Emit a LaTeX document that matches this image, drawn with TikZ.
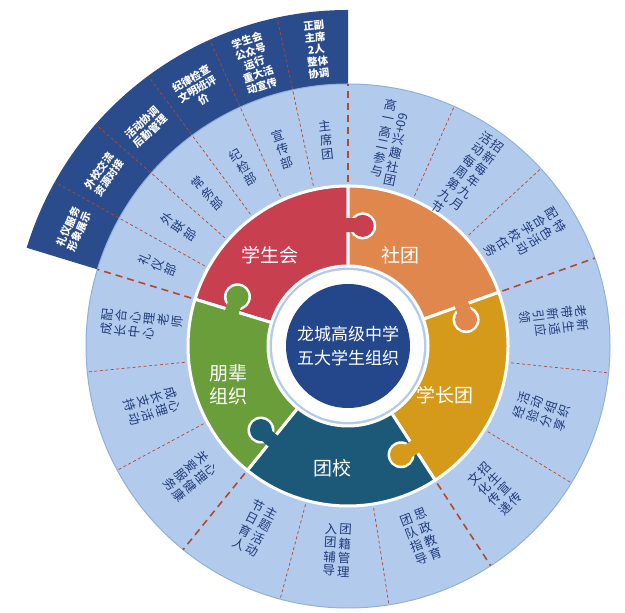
\documentclass[tikz,border=0pt]{standalone}
\usepackage{fontspec}
\setmainfont{Noto Sans CJK SC}
\definecolor{ringc}{HTML}{B2CBEC}
\definecolor{ringe}{HTML}{8FB0DA}
\definecolor{bandc}{HTML}{2B4C8C}
\definecolor{redc}{HTML}{C8404F}
\definecolor{orac}{HTML}{E0874E}
\definecolor{yelc}{HTML}{D59A1A}
\definecolor{teac}{HTML}{1C5878}
\definecolor{grec}{HTML}{6A9E3A}
\definecolor{cenc}{HTML}{23478A}
\definecolor{dashc}{HTML}{B5482A}
\definecolor{txtc}{HTML}{1F3A7A}
\newcommand\vcol[1]{\begin{tabular}[t]{@{}c@{}}#1\end{tabular}}
\newcommand\olab[3]{\pgfmathsetmacro\rot{ifthenelse(sin(#2)>=0,#2-90,#2+90)}%
  \node[otext,rotate=\rot] (#1) at ([shift={(O)}]#2:206) {#3};}
\newcommand\dlab[3]{\node[dtext,rotate=#2-90] (#1) at ([shift={(O)}]#2:298) {#3};}
\begin{document}
\renewcommand\arraystretch{0.92}
\begin{tikzpicture}[x=1pt,y=1pt,
  otext/.style={text=txtc,font=\fontsize{12.5}{13.5}\selectfont,inner sep=0pt},
  dtext/.style={text=white,font=\fontsize{10.5}{12}\selectfont\bfseries,align=center,inner sep=0pt},
  plab/.style={text=white,font=\fontsize{19}{23}\selectfont,align=center},
  thick dash/.style={dashc,line width=1.6pt,dash pattern=on 7pt off 5pt},
  thin dash/.style={dashc,line width=0.7pt,dash pattern=on 3pt off 2.5pt}]
\useasboundingbox (0,0) rectangle (625,613);
\coordinate (O) at (348,267);
% dark band
\fill[bandc] ([shift={(O)}]90:336) arc[start angle=90,end angle=163,radius=336]
  -- ([shift={(O)}]163:262) arc[start angle=163,end angle=90,radius=262] -- cycle;
% light ring
\fill[ringc,draw=ringe,line width=1pt] (O) circle (262);
\fill[white] (O) circle (76);
% puzzle pieces
\foreach \a/\b/\c in {90/163/redc,19.6/90/orac,-57/19.6/yelc,-129/-57/teac,-197/-129/grec}{
  \fill[\c,draw=white,line width=3pt] ([shift={(O)}]\a:160) arc[start angle=\a,end angle=\b,radius=160]
   -- ([shift={(O)}]\b:80) arc[start angle=\b,end angle=\a,radius=80] -- cycle;}
% knobs
\foreach \a/\c in {90/redc,19.6/orac,-57/yelc,-129/teac,163/grec}{
  \fill[white] ([shift={(O)}]\a-7:121) circle (13.5);
  \fill[\c] ([shift={(O)}]\a-7:121) circle (11);
  \fill[\c] ([shift={(O)}]\a+2:114) arc[start angle=\a+2,end angle=\a-4,radius=114]
   -- ([shift={(O)}]\a-4:128) arc[start angle=\a-4,end angle=\a+2,radius=128] -- cycle;}
% center
\fill[cenc] (O) circle (62);
\node[plab,font=\fontsize{17}{24}\selectfont] (center) at (O) {龙城高级中学\\五大学生组织};
\node[plab] (xsh) at (270,358) {学生会};
\node[plab] (st) at (400,358) {社团};
\node[plab] (xzt) at (445,218) {学长团};
\node[plab] (tx) at (332,145) {团校};
\node[plab] (pb) at (228,228) {朋辈\\组织};
% dashes
\foreach \a in {19.6,-57,-129,163} \draw[thick dash] ([shift={(O)}]\a:164) -- ([shift={(O)}]\a:262);
\draw[thick dash] ([shift={(O)}]90:164) -- ([shift={(O)}]90:262);
\foreach \a in {66.1,42.6,-5.9,-31.5,-81,-105,-151.7,-174.3}
  \draw[thin dash] ([shift={(O)}]\a:164) -- ([shift={(O)}]\a:262);
\foreach \a in {102.2,114.3,126.5,138.7,150.8}
  \draw[thin dash] ([shift={(O)}]\a:164) -- ([shift={(O)}]\a:336);
% outer labels
\olab{s1}{96.1}{\vcol{主\\席\\团}}
\olab{s2}{108.3}{\vcol{宣\\传\\部}}
\olab{s3}{120.4}{\vcol{纪\\检\\部}}
\olab{s4}{132.6}{\vcol{常\\务\\部}}
\olab{s5}{144.8}{\vcol{外\\联\\部}}
\olab{s6}{156.9}{\vcol{礼\\仪\\部}}
\olab{o1}{78.3}{\vcol{高\\一\\高\\二\\参\\与}\hspace{2pt}\vcol{\rotatebox{-90}{60+}\\兴\\趣\\社\\团}}
\olab{o2}{54.8}{\vcol{活\\动\\每\\周\\第\\九\\节}\hspace{2pt}\vcol{招\\新\\每\\年\\九\\月}}
\olab{o3}{31.3}{\vcol{配\\合\\学\\校\\任\\务}\hspace{2pt}\vcol{特\\色\\活\\动}}
\olab{y1}{6.8}{\vcol{老\\带\\新\\引\\领}\hspace{2pt}\vcol{新\\生\\适\\应}}
\olab{y2}{-18.7}{\vcol{经\\验\\分\\享}\hspace{2pt}\vcol{活\\动\\组\\织}}
\olab{y3}{-44.2}{\vcol{文\\化\\传\\递}\hspace{2pt}\vcol{招\\生\\宣\\传}}
\olab{t1}{-69}{\vcol{团\\队\\指\\导}\hspace{2pt}\vcol{思\\政\\教\\育}}
\olab{t2}{-93}{\vcol{入\\团\\辅\\导}\hspace{2pt}\vcol{团\\籍\\管\\理}}
\olab{t3}{-117}{\vcol{节\\日\\育\\人}\hspace{2pt}\vcol{主\\题\\活\\动}}
\olab{g1}{-140.3}{\vcol{关\\爱\\服\\务}\hspace{2pt}\vcol{心\\理\\健\\康}}
\olab{g2}{-163}{\vcol{成\\长\\支\\持}\hspace{2pt}\vcol{心\\理\\活\\动}}
\olab{g3}{-185.7}{\vcol{成\\长\\中\\心}\hspace{2pt}\vcol{配\\合\\心\\理\\老\\师}}
% dark band labels
\dlab{d1}{96.1}{正副\\主席\\2人\\整体\\协调}
\dlab{d2}{108.3}{学生会\\公众号\\运行\\重大活\\动宣传}
\dlab{d3}{120.4}{纪律检查\\文明班评\\价}
\dlab{d4}{132.6}{活动协调\\后勤管理}
\dlab{d5}{144.8}{外校交流\\资源对接}
\dlab{d6}{156.9}{礼仪服务\\形象展示}
\end{tikzpicture}
\end{document}
